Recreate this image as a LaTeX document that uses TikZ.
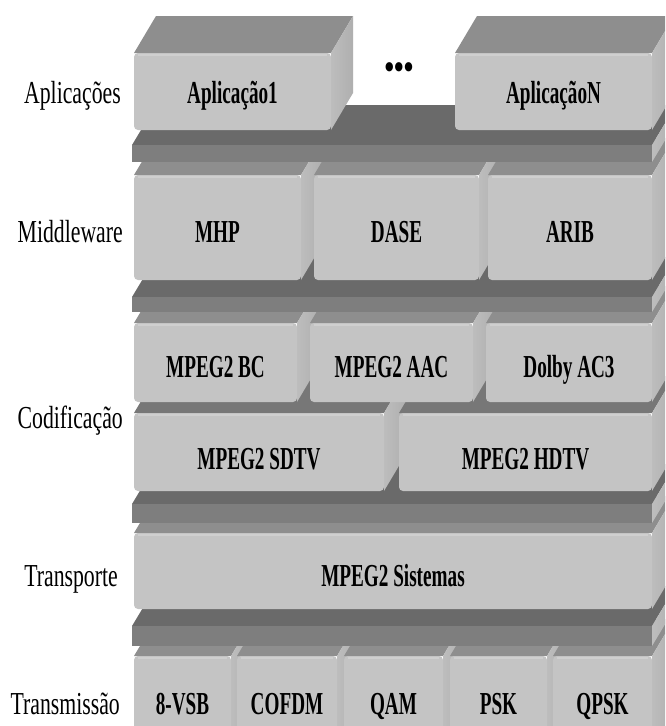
\documentclass[tikz,border=0pt]{standalone}
\usepackage{fontspec}
\newfontfamily\labfont[FakeStretch=0.68]{Liberation Serif}
\newfontfamily\boxfont[FakeStretch=0.60]{Liberation Serif}
\newfontfamily\dotfont[FakeStretch=0.8]{Liberation Serif}
\definecolor{frontc}{HTML}{C4C4C4}
\definecolor{frontrim}{HTML}{CFCFCF}
\definecolor{topc}{HTML}{8E8E8E}
\definecolor{topdarkc}{HTML}{777777}
\definecolor{slabtopc}{HTML}{6A6A6A}
\definecolor{slabfrontc}{HTML}{7E7E7E}
\definecolor{sideA}{HTML}{BDBDBD}
\definecolor{sideM}{HTML}{EEEEEE}
\definecolor{sideB}{HTML}{AFAFAF}
\tikzset{
  frontbox/.style={fill=frontc, rounded corners=4pt, inner sep=0pt, outer sep=0pt, draw=none},
  slabbox/.style={fill=slabfrontc, inner sep=0pt, outer sep=0pt, draw=none},
  topface/.style={fill=topc},
  topdark/.style={fill=topdarkc},
  slabtop/.style={fill=slabtopc},
  sideface/.style={left color=sideA, middle color=sideM, right color=sideB},
  rim/.style={draw=frontrim, line width=2pt},
  boxlabel/.style={font=\boxfont\bfseries\fontsize{32}{32}\selectfont, anchor=base, inner sep=0pt},
  layerlabel/.style={font=\labfont\fontsize{32}{32}\selectfont, anchor=base east, inner sep=0pt},
}
% #1 name, #2 x1, #3 x2, #4 ytop, #5 ybot, #6 baseline, #7 label, #8 top style
\newcommand\layerbox[8]{%
  \fill[#8] (#2,#4) -- ++(22,-37) -- ++({#3-#2},0) -- (#3,#4) -- cycle;
  \shade[sideface] (#3,#4) -- ++(22,-37) -- ++(0,{#5-#4}) -- (#3,#5) -- cycle;
  \node[frontbox, minimum width={(#3-#2)*1pt}, minimum height={(#5-#4)*1pt}, anchor=north west] (#1) at (#2,#4) {};
  \draw[rim] ([xshift=4pt,yshift=-2pt]#1.north west) -- ([xshift=-4pt,yshift=-2pt]#1.north east);
  \node[boxlabel] (#1-t) at ({(#2+#3)/2},#6) {#7};
}
% #1 name, #2 x1, #3 x2, #4 ytop, #5 ybot
\newcommand\slab[5]{%
  \fill[slabtop] (#2,#4) -- ++(24,-40) -- ++({#3-#2},0) -- (#3,#4) -- cycle;
  \shade[sideface] (#3,#4) -- ++(24,-40) -- ++(0,{#5-#4}) -- (#3,#5) -- cycle;
  \node[slabbox, minimum width={(#3-#2)*1pt}, minimum height={(#5-#4)*1pt}, anchor=north west] (#1) at (#2,#4) {};
}
\begin{document}
\begin{tikzpicture}[x=1pt,y=-1pt]
\useasboundingbox (0,0) rectangle (665,726);
\fill[white] (0,0) rectangle (665,726);
\clip (0,0) rectangle (665,726);
% Transmission
\layerbox{vsb}{134}{231}{656}{760}{714}{8-VSB}{topface}
\layerbox{cofdm}{237}{337}{656}{760}{714}{COFDM}{topface}
\layerbox{qam}{344}{443}{656}{760}{714}{QAM}{topface}
\layerbox{psk}{450}{547}{656}{760}{714}{PSK}{topface}
\layerbox{qpsk}{553}{652}{656}{760}{714}{QPSK}{topface}
\slab{slab4}{132}{652}{626}{646}
% Transport
\layerbox{sis}{134}{652}{533}{609}{586}{MPEG2 Sistemas}{topface}
\slab{slab3}{132}{652}{504}{523}
% Coding lower row
\layerbox{sdtv}{134}{384}{413}{491}{469}{MPEG2 SDTV}{topdark}
\layerbox{hdtv}{399}{652}{413}{491}{469}{MPEG2 HDTV}{topdark}
% Coding upper row
\layerbox{bc}{134}{297}{323}{402}{377}{MPEG2 BC}{topface}
\layerbox{aac}{310}{473}{323}{402}{377}{MPEG2 AAC}{topface}
\layerbox{ac3}{486}{652}{323}{402}{377}{Dolby AC3}{topface}
\slab{slab2}{132}{652}{297}{312}
% Middleware
\layerbox{mhp}{134}{301}{175}{280}{242}{MHP}{topface}
\layerbox{dase}{314}{479}{175}{280}{242}{DASE}{topface}
\layerbox{arib}{488}{652}{175}{280}{242}{ARIB}{topface}
\slab{slab1}{132}{652}{145}{162}
% Applications
\layerbox{app1}{134}{331}{53}{130}{103}{Aplicação1}{topface}
\layerbox{appn}{455}{652}{53}{130}{103}{AplicaçãoN}{topface}
\node[font=\dotfont\bfseries\fontsize{34}{34}\selectfont, inner sep=0pt] (dots) at (399,71) {•••};
% Layer labels
\node[layerlabel] (lapp) at (121,103) {Aplicações};
\node[layerlabel] (lmid) at (123,242) {Middleware};
\node[layerlabel] (lcod) at (123,428) {Codificação};
\node[layerlabel] (ltra) at (118,586) {Transporte};
\node[layerlabel] (ltrm) at (120,714) {Transmissão};
\end{tikzpicture}
\end{document}
